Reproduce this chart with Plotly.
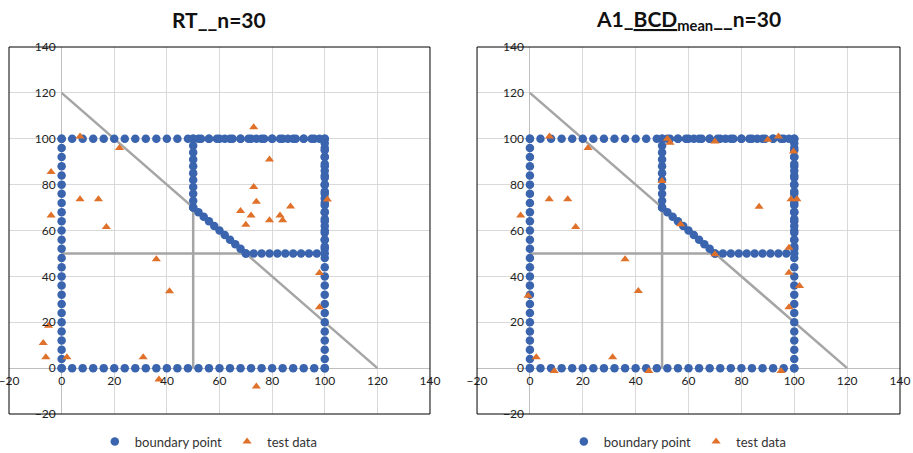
import plotly.graph_objects as go

# ---------------- data ----------------
square_vals = [0, 4, 8, 12, 16, 20, 24, 28, 32, 36, 40, 44, 48, 52, 56, 60, 64, 68, 72, 76, 80, 84, 88, 92, 96, 100]
pent_top_x = [50, 53, 56, 59, 62, 65, 68, 71, 74, 77, 80, 83, 86, 89, 92, 95, 98]
pent_left_y = [70, 73, 76, 79, 82, 85, 88, 91, 94, 97, 100]
diag_x = [50, 52, 54, 56, 58, 60, 62, 64, 66, 68, 70]
diag_y = [70, 68, 66, 64, 62, 60, 58, 56, 54, 52, 50]
pent_bottom_x = [70, 73, 76, 79, 82, 85, 88, 91, 94, 97]
pent_right_y = [50, 53, 56, 59, 62, 65, 68, 71, 74, 77, 80, 83, 86, 89, 92, 95, 98]

# reference lines
diag_line_x = [0, 120]
diag_line_y = [120, 0]
hline_x = [0, 70]
hline_y = [50, 50]
vline_x = [50, 50]
vline_y = [0, 70]

# test data
rt_x = [7, 22, -4, 7, 14, -4, 17, 73, 79, 73, 74, 68, 72, 87, 83, 84, 79, 70, 101, 98,
        36, 41, 98, -5, -7, -6, 2, 31, 37, 74]
rt_y = [101, 96, 85.5, 73.6, 73.6, 66.5, 61.5, 105, 91, 79, 72.5, 68.5, 66.5, 70.5, 66.5, 64.5, 64.5, 62.5, 73.5, 41.5,
        47.5, 33.5, 26.5, 18.5, 11, 4.7, 4.7, 4.7, -5, -8]
a1_x = [7.4, 22, -3.5, 7.3, 14.3, 17.3, 52, 53, 50, 57, 70, 90, 94, 99.7, 98.8, 101, 86.7, 70, 98, 98,
        36, 41, 102, 98, -0.7, 2.4, 31.3, 9.2, 45, 95]
a1_y = [101, 96, 66.5, 73.6, 73.6, 61.5, 100, 98.3, 81.6, 62.7, 98.8, 99.6, 101, 94.4, 73.6, 73.6, 70.4, 49.6, 52.5, 41.6,
        47.5, 33.6, 35.8, 26.5, 31.5, 4.7, 4.7, -1.3, -1.3, -1.3]

titles = ["RT__n=30", "A1_<u>BCD</u><sub>mean</sub>__n=30"]
tick_vals = [-20, 0, 20, 40, 60, 80, 100, 120, 140]
axis_range = [-20, 140]

# build boundary point set
bx, by = [], []
for v in square_vals:
    bx += [0, v, 100, v]
    by += [v, 0, v, 100]
for v in pent_top_x:
    bx.append(v); by.append(100)
for v in pent_left_y:
    bx.append(50); by.append(v)
bx += diag_x; by += diag_y
for v in pent_bottom_x:
    bx.append(v); by.append(50)
for v in pent_right_y:
    bx.append(100); by.append(v)

BLUE = "#3A64AE"
ORANGE = "#E0712A"
GRAY = "#A5A5A5"
FONT = "Lato"

fig = go.Figure()
tests = [(rt_x, rt_y), (a1_x, a1_y)]
for i in range(2):
    xa = "x" if i == 0 else "x2"
    ya = "y" if i == 0 else "y2"
    lg = "legend" if i == 0 else "legend2"
    for lx, ly in [(diag_line_x, diag_line_y), (hline_x, hline_y), (vline_x, vline_y)]:
        fig.add_trace(go.Scatter(x=lx, y=ly, mode="lines", line=dict(color=GRAY, width=2.5),
                                 showlegend=False, xaxis=xa, yaxis=ya, hoverinfo="skip"))
    fig.add_trace(go.Scatter(x=bx, y=by, mode="markers", name="boundary point",
                             marker=dict(color=BLUE, size=8.5, symbol="circle"),
                             xaxis=xa, yaxis=ya, legend=lg))
    fig.add_trace(go.Scatter(x=tests[i][0], y=tests[i][1], mode="markers", name="test data",
                             marker=dict(color=ORANGE, size=8, symbol="triangle-up"),
                             xaxis=xa, yaxis=ya, legend=lg))

doms = [[0.0, 0.4725], [0.5253, 1.0]]
axis_common = dict(range=axis_range, tickvals=tick_vals, showgrid=True, gridcolor="#D9D9D9",
                   gridwidth=1, zeroline=True, zerolinecolor="#BFBFBF", zerolinewidth=1,
                   showline=False, ticks="", tickfont=dict(family=FONT, size=12, color="#222"),
                   fixedrange=True, automargin=False, ticklabeloverflow="allow")

layout = dict(
    width=913, height=453,
    margin=dict(l=9, r=13, t=47, b=39, autoexpand=False),
    paper_bgcolor="white", plot_bgcolor="white",
    font=dict(family=FONT),
    hovermode=False,
)
for i in range(2):
    sfx = "" if i == 0 else "2"
    d = doms[i]
    layout["xaxis" + sfx] = dict(axis_common, domain=d, anchor="free", position=0.125,
                                 ticklabelstandoff=4)
    layout["yaxis" + sfx] = dict(axis_common, domain=[0, 1], anchor="free",
                                 position=d[0] + 0.125 * (d[1] - d[0]), ticklabelstandoff=6)
fig.update_layout(**layout)

# legends
for i, name in enumerate(["legend", "legend2"]):
    d = doms[i]
    fig.update_layout({name: dict(orientation="h", x=(d[0] + d[1]) / 2 - 0.012, xanchor="center",
                                  y=-0.075, yanchor="middle", font=dict(family=FONT, size=13, color="#333"),
                                  bgcolor="rgba(0,0,0,0)", itemwidth=30, tracegroupgap=0)})

# frames and titles
for i in range(2):
    d = doms[i]
    fig.add_shape(type="rect", xref="paper", yref="paper",
                  x0=d[0], x1=d[1], y0=0, y1=1,
                  line=dict(color="black", width=1), layer="above")
    fig.add_annotation(text="<b>" + titles[i] + "</b>", xref="paper", yref="paper",
                       x=(d[0] + d[1]) / 2, y=1 + 27 / 367, xanchor="center", yanchor="middle",
                       showarrow=False, font=dict(family=FONT, size=21, color="#111"))

fig.write_html("out.html", config={"displayModeBar": False},
               post_script="document.body.style.margin='0';document.body.style.overflow='hidden';")
